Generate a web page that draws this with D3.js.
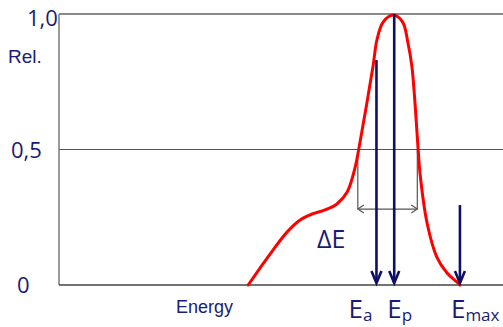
<!DOCTYPE html>
<html>
<head>
<meta charset="utf-8">
<script src="https://cdn.jsdelivr.net/npm/d3@7"></script>
<style>
  html, body { margin: 0; padding: 0; background: #fff; }
  svg { display: block; }
</style>
</head>
<body>
<div id="chart"></div>
<script>
// spectrum (energy in arbitrary units, relative intensity)
const energy = [42.6, 45.3, 48.2, 51.4, 54.3, 57.0, 59.9, 62.6, 64.9, 66.7, 67.8, 70.7, 71.6,
  73.0, 75.3, 77.4, 78.6, 79.5, 80.9, 81.3, 82.9, 85.1, 87.4, 89.6, 90.3];
const rel = [0, 0.063, 0.129, 0.196, 0.240, 0.262, 0.277, 0.299, 0.343, 0.435, 0.528, 0.804, 0.904,
  0.970, 0.996, 0.970, 0.893, 0.804, 0.498, 0.413, 0.229, 0.103, 0.044, 0.011, 0];

// y ticks
const yTicks = [0, 0.5, 1];
const yTickLabels = ["0", "0,5", "1,0"];

// marker arrows E_a, E_p, E_max
const markerSub = ["a", "p", "max"];
const markerE = [71.5, 75.5, 90.3];
const markerTop = [0.83, 1.0, 0.295];

// delta E bracket
const dEFrom = 67.3;
const dETo = 80.7;
const dELevel = 0.28;
const halfLevel = 0.5;

const W = 503, H = 327;
const navy = "#1b1b73";
const arrowCol = "#0f0f68";

const x = d3.scaleLinear().domain([0, 100]).range([59, 503]);
const y = d3.scaleLinear().domain([0, 1]).range([285, 14]);

const svg = d3.select("#chart").append("svg")
  .attr("width", W)
  .attr("height", H);

// frame lines
svg.append("line")
  .attr("x1", x(0)).attr("x2", x(100))
  .attr("y1", y(1)).attr("y2", y(1))
  .attr("stroke", "#8a8a8a").attr("stroke-width", 2);
svg.append("line")
  .attr("x1", x(0)).attr("x2", x(100))
  .attr("y1", y(0.5)).attr("y2", y(0.5))
  .attr("stroke", "#555").attr("stroke-width", 1);
svg.append("line")
  .attr("x1", x(0)).attr("x2", x(0))
  .attr("y1", y(1)).attr("y2", y(0))
  .attr("stroke", "#7a7a7a").attr("stroke-width", 1.5);
svg.append("line")
  .attr("x1", x(0)).attr("x2", x(100))
  .attr("y1", y(0)).attr("y2", y(0))
  .attr("stroke", "#444").attr("stroke-width", 1.5);

// y tick labels (not aligned in the original)
const tickX = [17, 11, 27];
const tickDy = [8, 8, 12];
svg.selectAll(".ytick")
  .data(yTicks)
  .enter()
  .append("text")
  .attr("class", "ytick")
  .attr("x", (d, i) => tickX[i])
  .attr("y", (d, i) => y(d) + tickDy[i])
  .attr("fill", navy)
  .style("font-family", "'Open Sans', sans-serif")
  .style("font-size", "22px")
  .text((d, i) => yTickLabels[i]);

svg.append("text")
  .attr("x", 8).attr("y", 63)
  .attr("fill", navy)
  .style("font-family", "'Liberation Sans', Arial, sans-serif")
  .style("font-size", "19px")
  .text("Rel.");

svg.append("text")
  .attr("x", 176).attr("y", 313)
  .attr("fill", navy)
  .style("font-family", "'Liberation Sans', Arial, sans-serif")
  .style("font-size", "18px")
  .text("Energy");

// delta E bracket
const bracket = svg.append("g")
  .attr("stroke", "#555")
  .attr("stroke-width", 1.2)
  .attr("fill", "none");
[dEFrom, dETo].forEach((e) => {
  bracket.append("line")
    .attr("x1", x(e)).attr("x2", x(e))
    .attr("y1", y(halfLevel)).attr("y2", y(dELevel));
});
bracket.append("line")
  .attr("x1", x(dEFrom)).attr("x2", x(dETo))
  .attr("y1", y(dELevel)).attr("y2", y(dELevel));
bracket.append("path")
  .attr("d", `M${x(dEFrom) + 6},${y(dELevel) - 4}L${x(dEFrom)},${y(dELevel)}L${x(dEFrom) + 6},${y(dELevel) + 4}`);
bracket.append("path")
  .attr("d", `M${x(dETo) - 6},${y(dELevel) - 4}L${x(dETo)},${y(dELevel)}L${x(dETo) - 6},${y(dELevel) + 4}`);

svg.append("text")
  .attr("x", 317).attr("y", 248)
  .attr("fill", navy)
  .style("font-family", "'Open Sans', sans-serif")
  .style("font-size", "25px")
  .text("ΔE");

// spectrum curve
const line = d3.line()
  .x((d) => x(d[0]))
  .y((d) => y(d[1]))
  .curve(d3.curveCatmullRom.alpha(0.5));

svg.append("path")
  .datum(energy.map((e, i) => [e, rel[i]]))
  .attr("d", line)
  .attr("fill", "none")
  .attr("stroke", "#ff0000")
  .attr("stroke-width", 3)
  .attr("stroke-linecap", "round");

// marker arrows
const arrows = svg.selectAll(".marker")
  .data(markerE)
  .enter()
  .append("g")
  .attr("class", "marker")
  .attr("stroke", arrowCol)
  .attr("stroke-width", 2.6)
  .attr("fill", "none");

arrows.append("line")
  .attr("x1", (d) => x(d)).attr("x2", (d) => x(d))
  .attr("y1", (d, i) => y(markerTop[i]))
  .attr("y2", y(0) - 2);

arrows.append("path")
  .attr("stroke-linejoin", "miter")
  .attr("d", (d) => `M${x(d) - 5},${y(0) - 14}L${x(d)},${y(0) - 2}L${x(d) + 5},${y(0) - 14}`);

// marker labels
const labelDx = [-28, -7, -9];
const labels = svg.selectAll(".mlabel")
  .data(markerE)
  .enter()
  .append("text")
  .attr("class", "mlabel")
  .attr("x", (d, i) => x(d) + labelDx[i])
  .attr("y", 318)
  .attr("fill", navy)
  .style("font-family", "'Open Sans', sans-serif")
  .style("font-size", "26px");
labels.append("tspan").text("E");
labels.append("tspan")
  .attr("dy", 3)
  .style("font-size", "17px")
  .text((d, i) => markerSub[i]);
</script>
</body>
</html>
